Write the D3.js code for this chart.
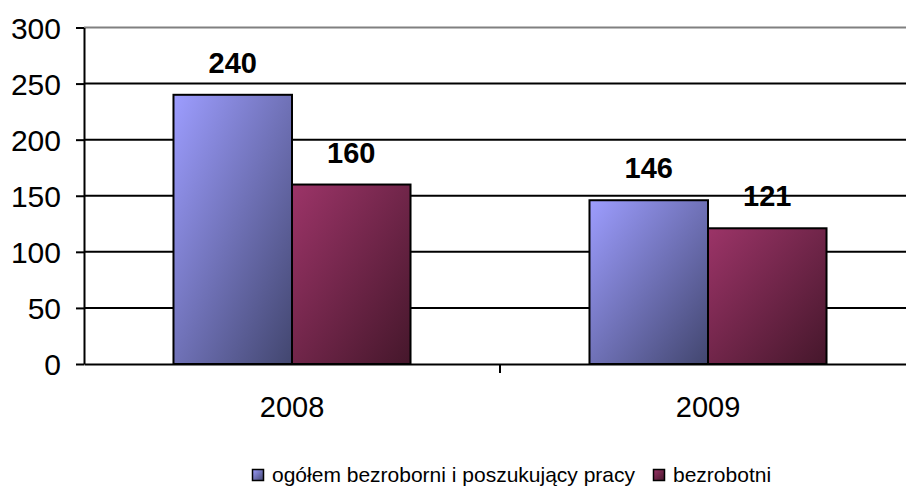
<!DOCTYPE html>
<html>
<head>
<meta charset="utf-8">
<script src="https://cdn.jsdelivr.net/npm/d3@7/dist/d3.min.js"></script>
<style>
  html, body { margin: 0; padding: 0; background: #fff; }
  svg { display: block; font-family: "Liberation Sans", Arial, sans-serif; }
</style>
</head>
<body>
<svg id="chart" width="906" height="486"></svg>
<script>
// Chart data
const years = ["2008", "2009"];
const seriesNames = ["ogółem bezroborni i poszukujący pracy", "bezrobotni"];
const totalSeeking = [240, 146];
const unemployed = [160, 121];
const yTicks = [0, 50, 100, 150, 200, 250, 300];

const seriesValues = [totalSeeking, unemployed];
const gradientStops = [
  ["#9d9dff", "#42466f"],
  ["#9c3468", "#45172b"]
];

const svg = d3.select("#chart");
const plot = { left: 84, right: 916, top: 27.5, bottom: 364 };

const x0 = d3.scaleBand().domain(years).range([plot.left, plot.right]).paddingInner(0).paddingOuter(0);
const x1 = d3.scaleBand().domain(d3.range(seriesNames.length))
  .range([0, x0.bandwidth()]).paddingInner(0).paddingOuter(0.755);
const y = d3.scaleLinear().domain([0, 300]).range([plot.bottom, plot.top]);

// Diagonal gradients for bar fills
const defs = svg.append("defs");
gradientStops.forEach((s, i) => {
  const g = defs.append("linearGradient").attr("id", "grad" + i)
    .attr("x1", 0).attr("y1", 0).attr("x2", 1).attr("y2", 1);
  g.append("stop").attr("offset", "0%").attr("stop-color", s[0]);
  g.append("stop").attr("offset", "100%").attr("stop-color", s[1]);
});

// Horizontal gridlines
svg.append("g").selectAll("line").data(yTicks.filter(t => t > 0)).join("line")
  .attr("x1", plot.left).attr("x2", plot.right)
  .attr("y1", d => y(d)).attr("y2", d => y(d))
  .attr("stroke", d => d === 300 ? "#808080" : "#000")
  .attr("stroke-width", 2);

// Y axis
const yAxis = svg.append("g").attr("transform", `translate(${plot.left},0)`)
  .call(d3.axisLeft(y).tickValues(yTicks).tickSize(8).tickPadding(15).tickSizeOuter(0));
yAxis.select(".domain").attr("stroke", "#000").attr("stroke-width", 2);
yAxis.selectAll(".tick line").attr("stroke", "#000").attr("stroke-width", 2);
yAxis.selectAll(".tick text").attr("font-size", 30).attr("fill", "#000")
  .attr("font-family", "Liberation Sans, Arial, sans-serif").attr("dy", "0.36em");

// Bars
const groups = svg.append("g").selectAll("g").data(years).join("g")
  .attr("transform", d => `translate(${x0(d)},0)`);

groups.selectAll("rect")
  .data((d, i) => seriesValues.map((vals, s) => ({ s, v: vals[i] })))
  .join("rect")
  .attr("x", d => x1(d.s))
  .attr("width", x1.bandwidth())
  .attr("y", d => y(d.v))
  .attr("height", d => y(0) - y(d.v))
  .attr("fill", d => `url(#grad${d.s})`)
  .attr("stroke", "#000").attr("stroke-width", 2);

// Value labels
groups.selectAll("text.val")
  .data((d, i) => seriesValues.map((vals, s) => ({ s, v: vals[i] })))
  .join("text").attr("class", "val")
  .attr("x", d => x1(d.s) + x1.bandwidth() / 2)
  .attr("y", d => y(d.v) - 22)
  .attr("text-anchor", "middle")
  .attr("font-size", 29).attr("font-weight", "bold").attr("fill", "#000")
  .text(d => d.v);

// X axis
const xAxis = svg.append("g").attr("transform", `translate(0,${plot.bottom})`)
  .call(d3.axisBottom(x0).tickSize(0).tickPadding(32).tickSizeOuter(0));
xAxis.select(".domain").attr("stroke", "#000").attr("stroke-width", 2);
xAxis.selectAll(".tick text").attr("font-size", 29).attr("fill", "#000")
  .attr("font-family", "Liberation Sans, Arial, sans-serif");
// Category separator ticks
svg.append("g").selectAll("line").data(years.slice(1)).join("line")
  .attr("x1", d => x0(d)).attr("x2", d => x0(d))
  .attr("y1", plot.bottom).attr("y2", plot.bottom + 9)
  .attr("stroke", "#000").attr("stroke-width", 2);

// Legend
const legend = svg.append("g").attr("transform", "translate(252,469)");
const legendX = [0, 401];
seriesNames.forEach((name, i) => {
  const item = legend.append("g").attr("transform", `translate(${legendX[i]},0)`);
  item.append("rect").attr("x", 0.5).attr("y", 0.5).attr("width", 11).attr("height", 11)
    .attr("fill", `url(#grad${i})`).attr("stroke", "#000").attr("stroke-width", 1.5);
  item.append("text").attr("x", 20).attr("y", 13)
    .attr("font-size", 21).attr("fill", "#000").text(name);
});
</script>
</body>
</html>
